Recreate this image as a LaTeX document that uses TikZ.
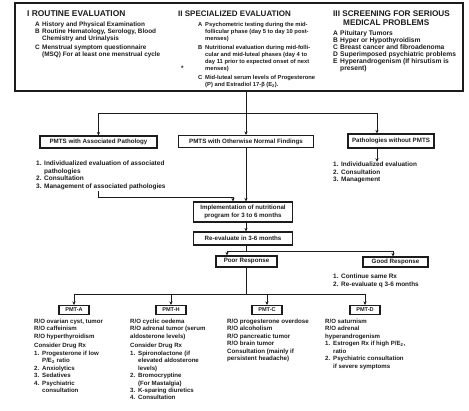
\documentclass[tikz,border=0pt]{standalone}
\usepackage{fontspec}
\setmainfont{Liberation Sans}
\usetikzlibrary{arrows.meta, positioning, calc}
\definecolor{ink}{HTML}{1C1C1C}
\newcommand{\Ltr}[1]{\makebox[7pt][l]{#1}}
\newcommand{\Nbr}[1]{\makebox[8pt][l]{#1}}

\begin{document}
\begin{tikzpicture}[
    x=1pt, y=-1pt,
    frame/.style={rectangle, draw=ink, line width=1.3pt, inner sep=0pt},
    box/.style={rectangle, draw=ink, line width=1.1pt, inner sep=1pt,
                minimum height=12pt, align=center, text=ink,
                font=\fontsize{6.2}{7.6}\selectfont\bfseries},
    tag/.style={box, minimum width=30pt, minimum height=9pt,
                font=\fontsize{5.6}{6}\selectfont\bfseries},
    lst/.style={anchor=base west, inner sep=0pt, text=ink,
                font=\fontsize{6.4}{7.5}\selectfont\bfseries},
    hd/.style={anchor=base west, inner sep=0pt, text=ink,
               font=\fontsize{8.4}{8}\selectfont\bfseries},
    arr/.style={-{Stealth[length=3.5pt, width=3.2pt]}, line width=0.8pt, draw=ink},
    lnk/.style={line width=0.8pt, draw=ink}
  ]
  \useasboundingbox (0,0) rectangle (469,411);

  % evaluation block
  \node[frame, minimum width=448pt, minimum height=88pt] (top) at (239,47) {};
  \node[hd] (hroutine) at (27,17) {I ROUTINE EVALUATION};
  \node[lst, font=\fontsize{6.4}{6.8}\selectfont\bfseries] (lroutine) at (35,27) {%
    \begin{tabular}[t]{@{}l@{}}
      \Ltr{A}History and Physical Examination\\
      \Ltr{B}Routine Hematology, Serology, Blood\\
      \Ltr{}Chemistry and Urinalysis\\[2.4pt]
      \Ltr{C}Menstrual symptom questionnaire\\
      \Ltr{}(MSQ) For at least one menstrual cycle
    \end{tabular}};
  \node[hd, font=\fontsize{8}{8}\selectfont\bfseries] (hspecial) at (178,17) {II SPECIALIZED EVALUATION};
  \node[lst, font=\fontsize{5.8}{6.9}\selectfont\bfseries] (lspecial) at (198,27) {%
    \begin{tabular}[t]{@{}l@{}}
      \Ltr{A}Psychometric testing during the mid-\\
      \Ltr{}follicular phase (day 5 to day 10 post-\\
      \Ltr{}menses)\\[2.2pt]
      \Ltr{B}Nutritional evaluation during mid-folli-\\
      \Ltr{}cular and mid-luteal phases (day 4 to\\
      \Ltr{}day 11 prior to expected onset of next\\
      \Ltr{}menses)\\[2.2pt]
      \Ltr{C}Mid-luteal serum levels of Progesterone\\
      \Ltr{}(P) and Estradiol 17-β (E\textsubscript{2}).
    \end{tabular}};
  \node[lst] (star) at (181,71) {*};
  \node[hd, font=\fontsize{8.2}{8}\selectfont\bfseries] (hscreen) at (333,17) {%
    \begin{tabular}[t]{@{}l@{}}
      III SCREENING FOR SERIOUS\\
      \hspace*{10pt}MEDICAL PROBLEMS
    \end{tabular}};
  \node[lst, font=\fontsize{6.7}{6.5}\selectfont\bfseries] (lscreen) at (333,36) {%
    \begin{tabular}[t]{@{}l@{}}
      \Ltr{A}Pituitary Tumors\\
      \Ltr{B}Hyper or Hypothyroidism\\
      \Ltr{C}Breast cancer and fibroadenoma\\
      \Ltr{D}Superimposed psychiatric problems\\
      \Ltr{E}Hyperandrogenism (If hirsutism is\\
      \Ltr{}present)
    \end{tabular}};

  % three findings
  \node[box, minimum width=117pt] (assoc) at (98.5,142) {PMTS with Associated Pathology};
  \node[box, minimum width=135pt] (normal) at (246,141.5) {PMTS with Otherwise Normal Findings};
  \node[box, minimum width=86pt, minimum height=14pt] (nopmts) at (391,141) {Pathologies without PMTS};
  \coordinate (split) at (normal.north |- 0,113);
  \coordinate (rdrop) at (377,113);
  \draw[arr] (normal.north |- top.south) -- (normal.north);
  \draw[arr] (split) -| (assoc.north);
  \draw[arr] (split) -- (rdrop) -- (rdrop |- nopmts.north);

  \node[lst, font=\fontsize{6.5}{7.5}\selectfont\bfseries] (lassoc) at (36,166) {%
    \begin{tabular}[t]{@{}l@{}}
      \Nbr{1.}Individualized evaluation of associated\\
      \Nbr{}pathologies\\
      \Nbr{2.}Consultation\\
      \Nbr{3.}Management of associated pathologies
    \end{tabular}};
  \node[lst, font=\fontsize{6.4}{7.2}\selectfont\bfseries] (lnopmts) at (333,167) {%
    \begin{tabular}[t]{@{}l@{}}
      \Nbr{1.}Individualized evaluation\\
      \Nbr{2.}Consultation\\
      \Nbr{3.}Management
    \end{tabular}};
  \draw[arr] (rdrop |- nopmts.south) -- (rdrop |- lnopmts.north);

  % nutritional program
  \node[box, minimum width=99pt, minimum height=20pt] (impl) at (243,212)
    {Implementation of nutritional\\program for 3 to 6 months};
  \node[box, minimum width=99pt, minimum height=13pt] (reeval) at (243,238.5)
    {Re-evaluate in 3-6 months};
  \coordinate (join) at (233,197);
  \draw[arr] (normal.south) -- (normal.south |- impl.north);
  \draw[arr] (assoc.south |- lassoc.south) |- (join) -- (join |- impl.north);
  \draw[arr] (normal.south |- impl.south) -- (normal.south |- reeval.north);

  % response
  \node[box, minimum width=61pt, minimum height=11pt] (poor) at (246.5,261.5) {Poor Response};
  \node[box, minimum width=65pt, minimum height=10pt] (good) at (395.5,262) {Good Response};
  \coordinate (split2) at (normal.south |- 0,251);
  \coordinate (pdrop) at (227,251);
  \coordinate (gdrop) at (393,251);
  \draw[lnk] (normal.south |- reeval.south) -- (split2);
  \draw[arr] (split2) -- (pdrop) -- (pdrop |- poor.north);
  \draw[arr] (split2) -- (gdrop) -- (gdrop |- good.north);
  \node[lst] (lgood) at (333,279) {%
    \begin{tabular}[t]{@{}l@{}}
      \Nbr{1.}Continue same Rx\\
      \Nbr{2.}Re-evaluate q 3-6 months
    \end{tabular}};

  % PMT subgroups
  \node[tag] (pmta) at (74,310) {PMT-A};
  \node[tag] (pmth) at (171,310) {PMT-H};
  \node[tag] (pmtc) at (267,310) {PMT-C};
  \node[tag] (pmtd) at (365,310) {PMT-D};
  \coordinate (split3) at (normal.south |- 0,294);
  \draw[lnk] (normal.south |- poor.south) -- (split3);
  \draw[arr] (split3) -| (pmta.north);
  \draw[arr] (split3) -| (pmth.north);
  \draw[arr] (split3) -| (pmtc.north);
  \draw[arr] (split3) -| (pmtd.north);

  \node[lst, font=\fontsize{6.1}{7.45}\selectfont\bfseries] (lpmta) at (34,323.5) {%
    \begin{tabular}[t]{@{}l@{}}
      R/O ovarian cyst, tumor\\
      R/O caffeinism\\
      R/O hyperthyroidism\\[2pt]
      Consider Drug Rx\\
      \Nbr{1.}Progesterone if low\\
      \Nbr{}P/E\textsubscript{2} ratio\\
      \Nbr{2.}Anxiolytics\\
      \Nbr{3.}Sedatives\\
      \Nbr{4.}Psychiatric\\
      \Nbr{}consultation
    \end{tabular}};
  \node[lst, font=\fontsize{6.1}{7.45}\selectfont\bfseries] (lpmth) at (130,323.5) {%
    \begin{tabular}[t]{@{}l@{}}
      R/O cyclic oedema\\
      R/O adrenal tumor (serum\\
      aldosterone levels)\\[2pt]
      Consider Drug Rx\\
      \Nbr{1.}Spironolactone (if\\
      \Nbr{}elevated aldosterone\\
      \Nbr{}levels)\\
      \Nbr{2.}Bromocryptine\\
      \Nbr{}(For Mastalgia)\\
      \Nbr{3.}K-sparing diuretics\\
      \Nbr{4.}Consultation
    \end{tabular}};
  \node[lst, font=\fontsize{6.2}{7.4}\selectfont\bfseries] (lpmtc) at (227,323.5) {%
    \begin{tabular}[t]{@{}l@{}}
      R/O progesterone overdose\\
      R/O alcoholism\\
      R/O pancreatic tumor\\
      R/O brain tumor\\
      Consultation (mainly if\\
      persistent headache)
    \end{tabular}};
  \node[lst, font=\fontsize{6.1}{7.5}\selectfont\bfseries] (lpmtd) at (325,323.5) {%
    \begin{tabular}[t]{@{}l@{}}
      R/O saturnism\\
      R/O adrenal\\
      hyperandrogenism\\
      \Nbr{1.}Estrogen Rx if high P/E\textsubscript{2},\\
      \Nbr{}ratio\\
      \Nbr{2.}Psychiatric consultation\\
      \Nbr{}if severe symptoms
    \end{tabular}};
\end{tikzpicture}
\end{document}
